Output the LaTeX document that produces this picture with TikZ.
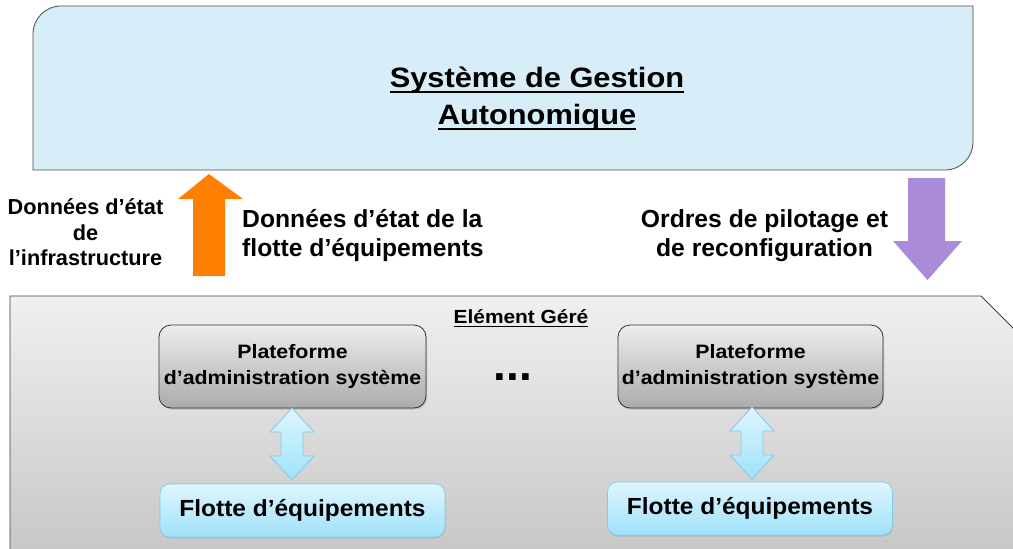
\documentclass[tikz,border=0pt]{standalone}
\usepackage{fontspec}
\setmainfont{Liberation Sans}
\newfontfamily\widefont{Liberation Sans}[FakeStretch=1.1]
\newfontfamily\midfont{Liberation Sans}[FakeStretch=1.05]
\usetikzlibrary{shadows}
\definecolor{topblue}{HTML}{D7EDF8}
\definecolor{orangearr}{HTML}{FF7F00}
\definecolor{purplearr}{HTML}{A98BD9}
\definecolor{lbtop}{HTML}{DFF6FE}
\definecolor{lbbot}{HTML}{9FE1F9}
\definecolor{lbdraw}{HTML}{7FCBEA}
\definecolor{pgtop}{HTML}{EDEDED}
\definecolor{pgbot}{HTML}{ABABAB}
\definecolor{bgtop}{HTML}{F0F0F0}
\definecolor{bgbot}{HTML}{C6C6C6}
\newcommand\ulx[1]{\setbox0\hbox{#1}\rlap{\rule[-0.17em]{\wd0}{0.055em}}\box0}
\newcommand\dblarr[3]{% x, ytop, ybot
  \shade[top color=lbtop, bottom color=lbbot, draw=lbdraw, line width=0.8pt]
    (#1,#2) -- (#1+22,#2+24) -- (#1+11,#2+24) -- (#1+11,#3-24) -- (#1+22,#3-24)
    -- (#1,#3) -- (#1-22,#3-24) -- (#1-11,#3-24) -- (#1-11,#2+24) -- (#1-22,#2+24) -- cycle;}
\begin{document}
\begin{tikzpicture}[x=1pt,y=-1pt,
  txt/.style={inner sep=0pt, font=\bfseries, align=center},
  platbox/.style={draw=black!80, line width=0.8pt, rounded corners=12pt,
    top color=pgtop, bottom color=pgbot, align=center, inner sep=0pt,
    minimum width=267pt, minimum height=83pt,
    font=\widefont\fontsize{19.4}{26}\selectfont\bfseries,
    drop shadow={shadow xshift=1pt, shadow yshift=-1.5pt, opacity=0.35}},
  flotbox/.style={draw=lbdraw, line width=0.6pt, rounded corners=10pt,
    top color=lbtop, bottom color=lbbot, inner sep=0pt,
    minimum width=285pt, minimum height=53pt,
    font=\midfont\fontsize{23.3}{28}\selectfont\bfseries,
    drop shadow={shadow xshift=0.5pt, shadow yshift=-1.5pt, opacity=0.25}}]
\useasboundingbox (0,0) rectangle (1013,549);
\clip (0,0) rectangle (1013,549);
\fill[white] (0,0) rectangle (1013,549);
% top box
\path[fill=topblue, draw=black!70, line width=0.8pt]
  (33,170) -- (33,34) .. controls (33,18.5) and (45.5,6) .. (61,6)
  -- (973,6) -- (973,142) .. controls (973,157.5) and (960.5,170) .. (945,170) -- cycle;
\node[txt, font=\widefont\fontsize{28}{37}\selectfont\bfseries] (sga) at (537,99)
  {\ulx{Système de Gestion}\\\ulx{Autonomique}};
% bottom box
\shade[top color=bgtop, bottom color=bgbot] (10,560) -- (10,296) -- (981,296) -- (1030,345) -- (1030,560) -- cycle;
\draw[black!75, line width=0.8pt] (10,560) -- (10,296) -- (981,296) -- (1030,345);
% big arrows
\coordinate (up) at (209,174);
\fill[orangearr] (193,276) -- (193,199) -- (178,199) -- (up) -- (243,199) -- (225,199) -- (225,276) -- cycle;
\coordinate (down) at (927.5,280);
\fill[purplearr] (908,178) -- (908,241) -- (893,241) -- (down) -- (962,241) -- (945,241) -- (945,178) -- cycle;
% labels
\node[txt, font=\fontsize{21.7}{25.5}\selectfont\bfseries] (linfra) at (85.5,232.5)
  {Données d’état\\de\\l’infrastructure};
\node[txt, anchor=west, align=left, font=\fontsize{24.7}{29}\selectfont\bfseries] (lflotte) at (242,235.5)
  {Données d’état de la\\flotte d’équipements};
\node[txt, font=\fontsize{24.7}{29}\selectfont\bfseries] (lordres) at (764.5,235.5)
  {Ordres de pilotage et\\de reconfiguration};
\node[txt, font=\widefont\fontsize{19}{20}\selectfont\bfseries] (eg) at (521,318) {\ulx{Elément Géré}};
% platforms
\node[platbox] (p1) at (292.5,366.5) {Plateforme\\d’administration système};
\node[platbox, minimum width=265pt] (p2) at (750.5,366.5) {Plateforme\\d’administration système};
\node[txt, font=\fontsize{46}{46}\selectfont\bfseries] (dots) at (513,377) {...};
% fleets
\node[flotbox] (f1) at (302.5,510.5) {Flotte d’équipements};
\node[flotbox] (f2) at (750,508.5) {Flotte d’équipements};
% double arrows
\dblarr{292}{408}{480}
\dblarr{752}{407}{479}
\end{tikzpicture}
\end{document}
